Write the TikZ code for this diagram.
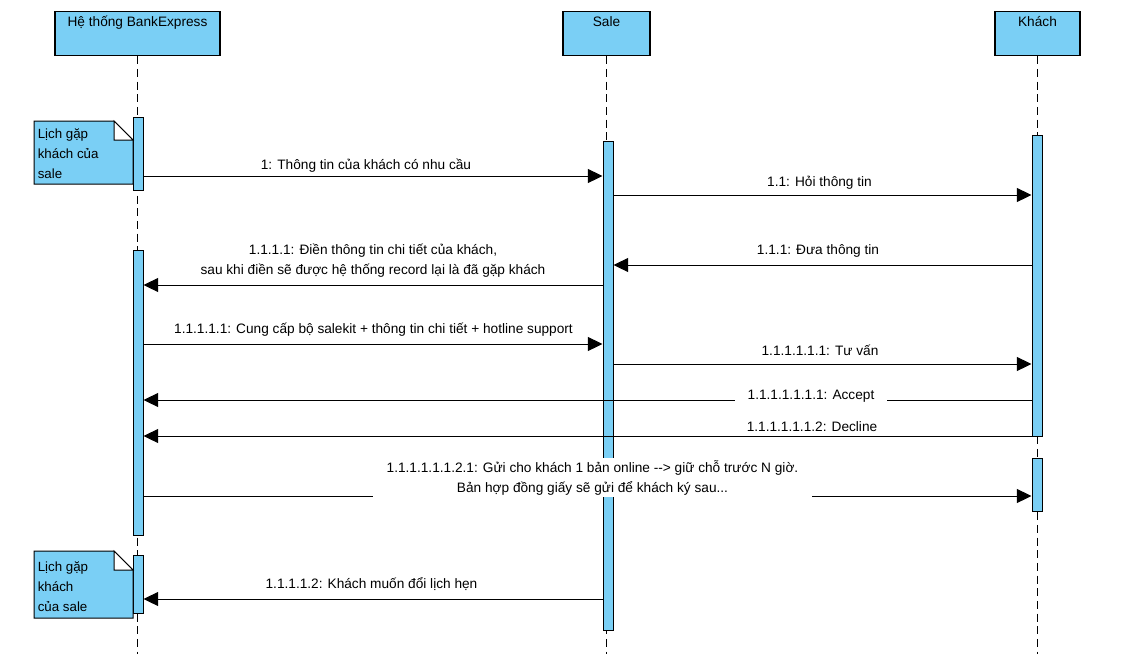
\documentclass[tikz,border=0pt]{standalone}
\usepackage{fontspec}
\setmainfont{Liberation Sans}
\usetikzlibrary{arrows.meta,fit}
\definecolor{vpblue}{RGB}{122,207,245}
\begin{document}
\begin{tikzpicture}[x=0.75pt,y=-0.75pt,
  every node/.style={font=\fontsize{10.25}{15}\selectfont},
  actorbox/.style={draw, fill=vpblue, line width=0.9pt, minimum height=33pt, inner sep=0pt, anchor=north},
  actortext/.style={anchor=base, inner sep=0pt},
  actbar/.style={draw, fill=vpblue, line width=0.75pt, inner sep=0pt},
  lifeline/.style={dash pattern=on 6pt off 3.5pt, line width=0.75pt},
  msg/.style={line width=0.75pt, -{Triangle[length=11pt,width=10.5pt]}},
  msglabel/.style={align=center, inner sep=1pt},
  gaplabel/.style={align=center, fill=white, inner sep=0pt},
  notebox/.style={draw, fill=vpblue, line width=0.75pt},
  notefold/.style={draw, fill=white, line width=0.75pt},
  notetext/.style={align=left, anchor=north west, inner sep=0pt, font=\fontsize{10}{15}\selectfont}
]
\useasboundingbox (0,0) rectangle (1129,654);

% actors
\node[actorbox, minimum width=123.75pt] (bank) at (137.5,11) {};
\node[actorbox, minimum width=65.25pt] (sale) at (606.5,11) {};
\node[actorbox, minimum width=63.75pt] (khach) at (1037.5,11) {};
\node[actortext] (bankT) at (137.5,26.5) {Hệ thống BankExpress};
\node[actortext] (saleT) at (606.5,26.5) {Sale};
\node[actortext] (khachT) at (1037.5,26.5) {Khách};

% lifelines
\coordinate (bankEnd) at (137.5,654);
\coordinate (saleEnd) at (606.5,654);
\coordinate (khachEnd) at (1037.5,654);
\draw[lifeline] (bank.south) -- (bankEnd);
\draw[lifeline] (sale.south) -- (saleEnd);
\draw[lifeline] (khach.south) -- (khachEnd);

% activations
\node[actbar, fit={(133,117) (143,190)}] (bA1) {};
\node[actbar, fit={(133,250) (143,535)}] (bA2) {};
\node[actbar, fit={(133,555) (143,613)}] (bA3) {};
\node[actbar, fit={(603,141) (613,630)}] (sA) {};
\node[actbar, fit={(1032,135) (1042,436)}] (kA1) {};
\node[actbar, fit={(1032,458) (1042,511)}] (kA2) {};

% notes
\draw[notebox] (34,121) -- (114,121) -- (133,140) -- (133,184) -- (34,184) -- cycle;
\draw[notefold] (114,121) -- (114,140) -- (133,140) -- cycle;
\node[notetext] (note1) at (37.5,128) {Lịch gặp\\khách của\\sale};
\draw[notebox] (34,551) -- (114,551) -- (133,570) -- (133,618) -- (34,618) -- cycle;
\draw[notefold] (114,551) -- (114,570) -- (133,570) -- cycle;
\node[notetext] (note2) at (37.5,561) {Lịch gặp\\khách\\của sale};

% messages
\draw[msg] (bA1.east |- 0,176) -- (sA.west |- 0,176);
\node[msglabel] (l1) at (366,166) {1: Thông tin của khách có nhu cầu};

\draw[msg] (sA.east |- 0,195) -- (kA1.west |- 0,195);
\node[msglabel] (l2) at (819.5,183) {1.1: Hỏi thông tin};

\draw[msg] (kA1.west |- 0,265) -- (sA.east |- 0,265);
\node[msglabel] (l3) at (818,251) {1.1.1: Đưa thông tin};

\draw[msg] (sA.west |- 0,285) -- (bA2.east |- 0,285);
\node[msglabel] (l4) at (373,260.5) {1.1.1.1: Điền thông tin chi tiết của khách,\\sau khi điền sẽ được hệ thống record lại là đã gặp khách};

\draw[msg] (bA2.east |- 0,344) -- (sA.west |- 0,344);
\node[msglabel] (l5) at (373.5,330) {1.1.1.1.1: Cung cấp bộ salekit + thông tin chi tiết + hotline support};

\draw[msg] (sA.east |- 0,364) -- (kA1.west |- 0,364);
\node[msglabel] (l6) at (820,350) {1.1.1.1.1.1: Tư vấn};

\draw[msg] (kA1.west |- 0,400) -- (bA2.east |- 0,400);
\node[gaplabel, minimum width=114pt, minimum height=14pt] (l7) at (811,396) {1.1.1.1.1.1.1: Accept};

\draw[msg] (kA1.west |- 0,436) -- (bA2.east |- 0,436);
\node[msglabel] (l8) at (812,427) {1.1.1.1.1.1.2: Decline};

\draw[msg] (bA2.east |- 0,496) -- (kA2.west |- 0,496);
\node[gaplabel, minimum width=329pt, minimum height=29pt] (l9) at (592.5,477.5) {1.1.1.1.1.1.2.1: Gửi cho khách 1 bản online {-}{-}> giữ chỗ trước N giờ.\\Bản hợp đồng giấy sẽ gửi để khách ký sau...};

\draw[msg] (sA.west |- 0,599) -- (bA3.east |- 0,599);
\node[msglabel] (l10) at (371.5,584) {1.1.1.1.2: Khách muốn đổi lịch hẹn};
\end{tikzpicture}
\end{document}
